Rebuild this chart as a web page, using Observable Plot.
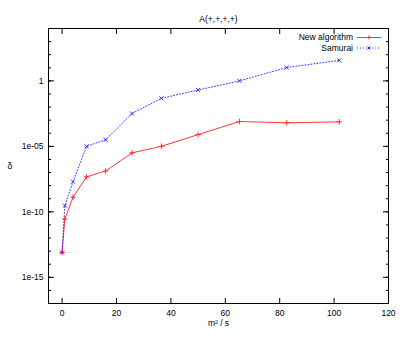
<!DOCTYPE html>
<html><head><meta charset="utf-8">
<script src="https://cdn.jsdelivr.net/npm/d3@7"></script>
<script src="https://cdn.jsdelivr.net/npm/@observablehq/plot@0.6"></script>
<style>body{margin:0;background:#fff}</style>
</head><body><div id="chart"></div>
<script>
const xValues = [0, 1, 4, 9, 16, 25.7, 36.5, 50, 65.2, 82.6, 101.9];
const newAlgorithm = [7.9e-14, 2.8e-11, 1.3e-9, 4.7e-8, 1.3e-7, 3.2e-6, 1.0e-5, 7.9e-5, 7.9e-4, 6.3e-4, 7.4e-4];
const samurai = [7.9e-14, 3.0e-10, 2.0e-8, 1.0e-5, 3.2e-5, 3.2e-3, 4.7e-2, 0.2, 1.0, 10.5, 37];
const xTicks = [0, 20, 40, 60, 80, 100, 120];
const yTicks = [1e-15, 1e-10, 1e-5, 1];
const yTickLabels = ["1e-15", "1e-10", "1e-05", "1"];
const yMinorTicks = d3.range(-16, 4).map(e => Math.pow(10, e));
const seriesNames = ["New algorithm", "Samurai"];
const seriesColors = ["#ff2020", "#2020ff"];

const data = [
  ...xValues.map((x, i) => ({x, y: newAlgorithm[i], s: seriesNames[0]})),
  ...xValues.map((x, i) => ({x, y: samurai[i], s: seriesNames[1]}))
];
const font = "'Liberation Sans',Arial,sans-serif";
const yLabelOf = d => { const i = yTicks.findIndex(t => Math.abs(Math.log10(t) - Math.log10(d)) < 1e-6); return i >= 0 ? yTickLabels[i] : ""; };
const none = () => "";

const chart = Plot.plot({
  width: 403, height: 343,
  marginLeft: 48, marginRight: 15, marginTop: 28, marginBottom: 40,
  style: {fontFamily: font, fontSize: "8.5px", color: "#000", background: "#fff"},
  x: {domain: [-5, 120]},
  y: {type: "log", domain: [1e-17, 1e4]},
  marks: [
    Plot.axisX({ticks: xTicks, tickSize: 0, tickPadding: 6, label: null, anchor: "bottom"}),
    Plot.axisY({ticks: yTicks, tickSize: 0, tickPadding: 5, tickFormat: yLabelOf, label: null, anchor: "left"}),
    Plot.axisX({ticks: xTicks, tickSize: 5, tickFormat: none, label: null, anchor: "bottom", dy: -5}),
    Plot.axisX({ticks: xTicks, tickSize: 5, tickFormat: none, label: null, anchor: "top", dy: 5}),
    Plot.axisY({ticks: yMinorTicks, tickSize: 3, tickFormat: none, label: null, anchor: "left", dx: 3}),
    Plot.axisY({ticks: yMinorTicks, tickSize: 3, tickFormat: none, label: null, anchor: "right", dx: -3}),
    Plot.axisY({ticks: yTicks, tickSize: 6, tickFormat: none, label: null, anchor: "left", dx: 6}),
    Plot.axisY({ticks: yTicks, tickSize: 6, tickFormat: none, label: null, anchor: "right", dx: -6}),
    Plot.frame({stroke: "#000", strokeWidth: 1}),
    Plot.line(data.filter(d => d.s === seriesNames[0]), {x: "x", y: "y", stroke: seriesColors[0], strokeWidth: 0.9}),
    Plot.line(data.filter(d => d.s === seriesNames[1]), {x: "x", y: "y", stroke: seriesColors[1], strokeWidth: 0.9, strokeDasharray: "1,2"}),
    Plot.dot(data.filter(d => d.s === seriesNames[0]), {x: "x", y: "y", symbol: "plus", r: 2, stroke: seriesColors[0], strokeWidth: 0.9}),
    Plot.dot(data.filter(d => d.s === seriesNames[1]), {x: "x", y: "y", symbol: "times", r: 2, stroke: seriesColors[1], strokeWidth: 0.9}),
    Plot.text(["A(+,+,+,+)"], {frameAnchor: "top", dy: -13, fontSize: 8.5}),
    Plot.text(["m² / s"], {frameAnchor: "bottom", dy: 22, fontSize: 8.5}),
    Plot.text(["δ"], {frameAnchor: "left", dx: -41, fontSize: 8.5})
  ]
});
document.getElementById("chart").appendChild(chart);

const svg = d3.select(chart);
const lg = svg.append("g").attr("font-family", font).attr("font-size", 8.5);
seriesNames.forEach((name, i) => {
  const y = 37.5 + i * 10.5;
  lg.append("text").attr("x", 353).attr("y", y).attr("dy", "0.35em").attr("text-anchor", "end").text(name);
  lg.append("line").attr("x1", 357).attr("x2", 381).attr("y1", y).attr("y2", y)
    .attr("stroke", seriesColors[i]).attr("stroke-width", 0.9).attr("stroke-dasharray", i ? "1,2" : null);
  const cx = 369;
  if (i === 0) {
    lg.append("path").attr("d", `M${cx-2},${y}H${cx+2}M${cx},${y-2}V${y+2}`).attr("stroke", seriesColors[i]);
  } else {
    lg.append("path").attr("d", `M${cx-1.5},${y-1.5}L${cx+1.5},${y+1.5}M${cx-1.5},${y+1.5}L${cx+1.5},${y-1.5}`).attr("stroke", seriesColors[i]);
  }
});
</script></body></html>
